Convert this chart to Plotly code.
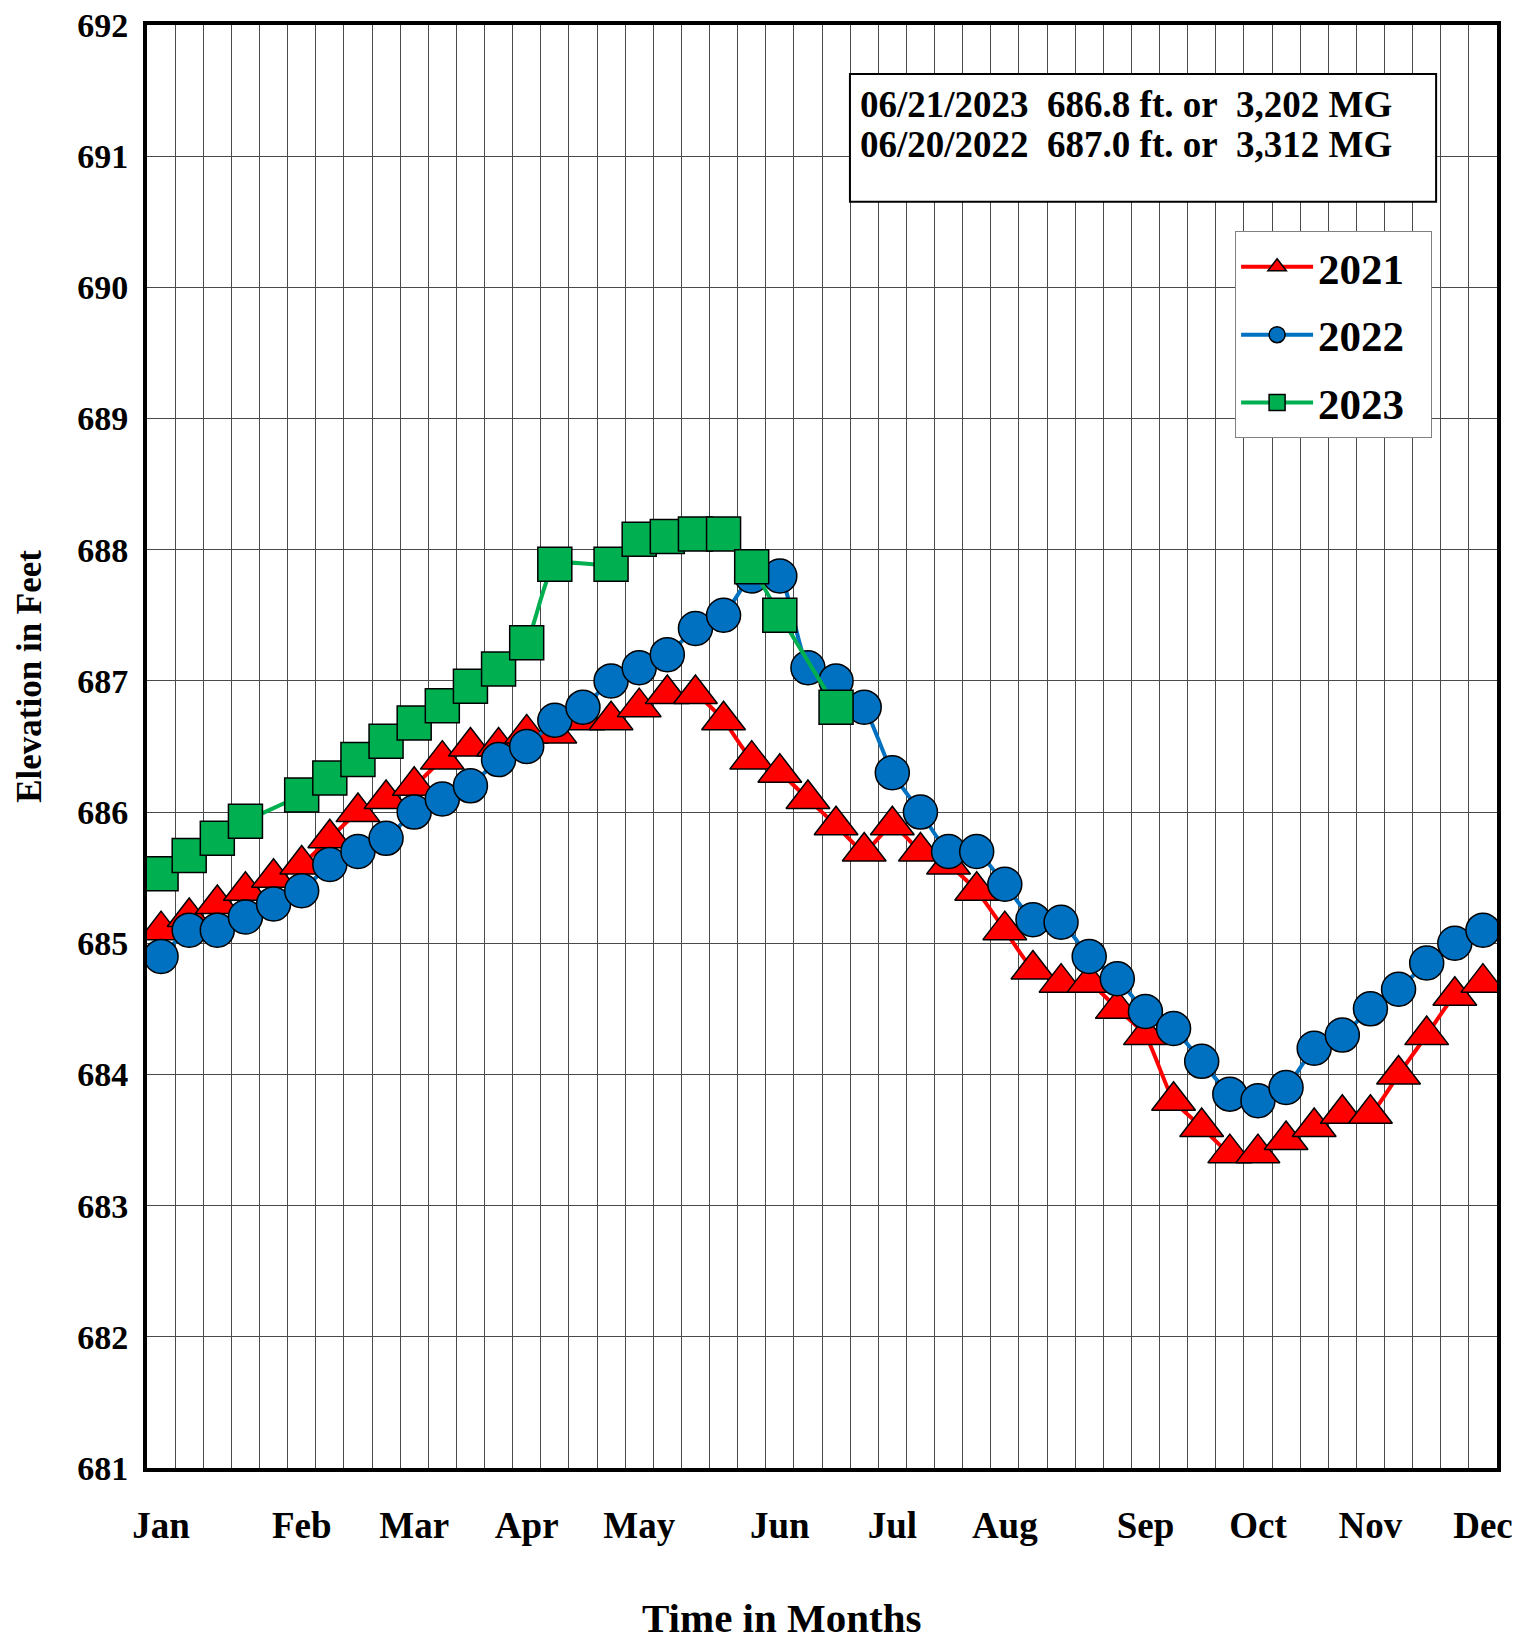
import plotly.graph_objects as go

# ---- data ----
weeks = list(range(48))
month_idx = [0, 5, 9, 13, 17, 22, 26, 30, 35, 39, 43, 47]
month_labels = ["Jan", "Feb", "Mar", "Apr", "May", "Jun", "Jul", "Aug", "Sep", "Oct", "Nov", "Dec"]
y_ticks = list(range(681, 693))

y2021 = [685.1, 685.2, 685.3, 685.4, 685.5, 685.6, 685.8, 686.0, 686.1, 686.2,
         686.4, 686.5, 686.5, 686.6, 686.6, 686.7, 686.7, 686.8, 686.9, 686.9,
         686.7, 686.4, 686.3, 686.1, 685.9, 685.7, 685.9, 685.7, 685.6, 685.4,
         685.1, 684.8, 684.7, 684.7, 684.5, 684.3, 683.8, 683.6, 683.4, 683.4,
         683.5, 683.6, 683.7, 683.7, 684.0, 684.3, 684.6, 684.7]

y2022 = [684.9, 685.1, 685.1, 685.2, 685.3, 685.4, 685.6, 685.7, 685.8, 686.0,
         686.1, 686.2, 686.4, 686.5, 686.7, 686.8, 687.0, 687.1, 687.2, 687.4,
         687.5, 687.8, 687.8, 687.1, 687.0, 686.8, 686.3, 686.0, 685.7, 685.7,
         685.45, 685.18, 685.16, 684.9, 684.73, 684.48, 684.35, 684.1, 683.85, 683.8,
         683.9, 684.2, 684.3, 684.5, 684.65, 684.85, 685.0, 685.1]

y2023 = [685.53, 685.67, 685.8, 685.93, None, 686.13, 686.26, 686.4, 686.54, 686.68,
         686.81, 686.96, 687.09, 687.29, 687.89, None, 687.89, 688.08, 688.1, 688.12,
         688.12, 687.87, 687.5, None, 686.8] + [None] * 23

box_lines = ["06/21/2023\u00a0\u00a0686.8 ft. or\u00a0\u00a03,202 MG",
             "06/20/2022\u00a0\u00a0687.0 ft. or\u00a0\u00a03,312 MG"]

series = [
    ("2021", y2021, "#FF0000", "triangle-up", 38),
    ("2022", y2022, "#0070C0", "circle", 34),
    ("2023", y2023, "#00B050", "square", 34),
]

FONT = "Liberation Serif"
PAD = "\u00a0\u00a0"

fig = go.Figure()
for name, ys, color, sym, size in series:
    fig.add_trace(go.Scatter(
        x=weeks, y=ys, name=name + PAD, mode="lines+markers",
        connectgaps=True, legendgroup=name,
        line=dict(color=color, width=4, shape="spline", smoothing=0.5),
        marker=dict(symbol=sym, size=size, color=color,
                    line=dict(color="black", width=1.5)),
    ))

fig.update_layout(
    width=1519, height=1636,
    margin=dict(l=139, r=30, t=17, b=176),
    paper_bgcolor="white", plot_bgcolor="white",
    font=dict(family=FONT, color="black", weight="bold"),
    showlegend=True,
    legend=dict(
        x=0.806, y=0.857, xanchor="left", yanchor="top",
        bgcolor="white", bordercolor="#808080", borderwidth=1,
        font=dict(family=FONT, size=43, weight="bold"),
        tracegroupgap=9, itemwidth=72,
    ),
    xaxis=dict(
        range=[-0.5, 47.5], tickmode="array", tickvals=month_idx, ticktext=month_labels,
        showgrid=False, zeroline=False, ticks="", automargin=False,
        tickfont=dict(family=FONT, size=37, weight="bold"),
        ticklabelstandoff=22, ticklabeloverflow="allow",
        showline=True, linecolor="black", linewidth=4, mirror=True,
        minor=dict(tick0=0.5, dtick=1, showgrid=True, gridcolor="#4a4a4a", gridwidth=1.2, ticks=""),
    ),
    yaxis=dict(
        range=[681, 692], tickmode="array", tickvals=y_ticks,
        showgrid=True, gridcolor="#4a4a4a", gridwidth=1.4, zeroline=False, ticks="", automargin=False,
        tickfont=dict(family=FONT, size=34, weight="bold"),
        ticklabelstandoff=8, ticklabeloverflow="allow",
        showline=True, linecolor="black", linewidth=4, mirror=True,
    ),
    shapes=[dict(type="rect", xref="paper", yref="paper",
                 x0=0.5207, x1=0.9549, y0=0.8775, y1=0.9660,
                 line=dict(color="black", width=2), fillcolor="white", layer="above")],
)

for line_text, ypos in zip(box_lines, [0.9452, 0.9169]):
    fig.add_annotation(
        xref="paper", yref="paper", x=0.5263, y=ypos, xanchor="left", yanchor="middle",
        text=line_text, showarrow=False,
        font=dict(family=FONT, size=37, weight="bold"),
    )

fig.add_annotation(
    xref="paper", yref="paper", x=-0.087, y=0.5487, xanchor="center", yanchor="middle",
    textangle=-90, text="Elevation in Feet", showarrow=False,
    font=dict(family=FONT, size=35, weight="bold"),
)
fig.add_annotation(
    xref="paper", yref="paper", x=0.4697, y=-0.1037, xanchor="center", yanchor="middle",
    text="Time in Months", showarrow=False,
    font=dict(family=FONT, size=41, weight="bold"),
)

fig.write_html("out.html")
